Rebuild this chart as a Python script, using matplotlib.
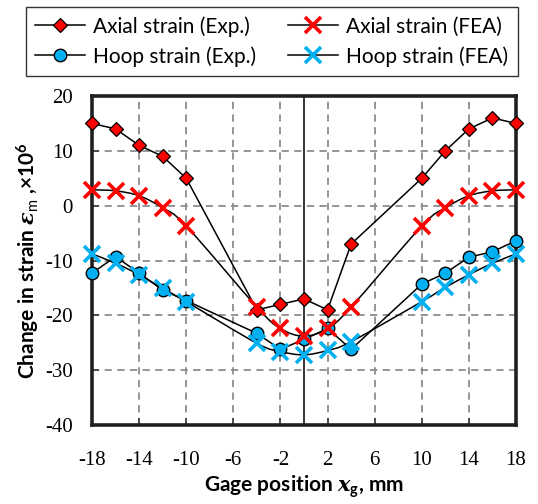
import matplotlib
matplotlib.use("Agg")
import matplotlib.pyplot as plt
from matplotlib.path import Path
from matplotlib.patches import PathPatch
from matplotlib.lines import Line2D
import numpy as np

# gage positions (mm)
x_pos = [-18, -16, -14, -12, -10, -4, -2, 0, 2, 4, 10, 12, 14, 16, 18]

# change in strain (x10^6)
axial_exp = [15, 14, 11, 9, 5, -19, -18, -17, -19, -7, 5, 10, 14, 16, 15]
axial_fea = [2.9, 2.7, 1.8, -0.4, -3.7, -18.5, -22.4, -23.8, -22.4, -18.5, -3.7, -0.4, 1.8, 2.7, 2.9]
hoop_exp = [-12.3, -9.3, -12.3, -15.4, -17.3, -23.3, -26.2, -24.4, -22.4, -26.2, -14.3, -12.3, -9.4, -8.4, -6.4]
hoop_fea = [-8.8, -10.5, -12.6, -15.1, -17.5, -25.1, -26.6, -27.2, -26.4, -24.8, -17.5, -14.9, -12.6, -10.5, -8.8]

xticks = [-18, -14, -10, -6, -2, 2, 6, 10, 14, 18]
yticks = [-40, -30, -20, -10, 0, 10, 20]

RED = "#FF0000"
BLUE = "#00B0F0"
SANS = "Lato"
SERIF = "Liberation Serif"

plt.rcParams["mathtext.fontset"] = "custom"
plt.rcParams["mathtext.rm"] = "Lato"
plt.rcParams["mathtext.it"] = "Lato:italic"
plt.rcParams["mathtext.bf"] = "Lato:bold"
plt.rcParams["mathtext.bfit"] = "DejaVu Serif:italic:bold"


def smooth_path(xs, ys):
    # cubic bezier through every point, excel-style smoothing
    pts = np.column_stack([xs, ys]).astype(float)
    n = len(pts)
    verts = [pts[0]]
    codes = [Path.MOVETO]
    for i in range(n - 1):
        p0 = pts[max(i - 1, 0)]
        p1 = pts[i]
        p2 = pts[i + 1]
        p3 = pts[min(i + 2, n - 1)]
        c1 = p1 + (p2 - p0) / 6.0
        c2 = p2 - (p3 - p1) / 6.0
        verts += [c1, c2, p2]
        codes += [Path.CURVE4] * 3
    return Path(verts, codes)


fig = plt.figure(figsize=(5.38, 5.04), dpi=100)
ax = fig.add_axes([92 / 538, 1 - 425 / 504, 424 / 538, 329 / 504])

ax.set_xlim(-18, 18)
ax.set_ylim(-40, 20)

# grid
for xv in xticks[1:-1]:
    ax.axvline(xv, color="#8c8c8c", lw=1.3, ls=(0, (4, 3)), zorder=1)
for yv in yticks[1:-1]:
    ax.axhline(yv, color="#8c8c8c", lw=1.3, ls=(0, (4, 3)), zorder=1)
ax.axvline(0, color="black", lw=1.1, zorder=1.5)

# exp. series: straight segments
ax.plot(x_pos, axial_exp, color="black", lw=1.1, marker="D", ms=7,
        mfc=RED, mec="black", mew=0.9, zorder=4)
ax.plot(x_pos, hoop_exp, color="black", lw=1.1, marker="o", ms=9,
        mfc=BLUE, mec="black", mew=1.0, zorder=4)

# FEA series: smoothed curves with cross markers
for vals, col in [(axial_fea, RED), (hoop_fea, BLUE)]:
    ax.add_patch(PathPatch(smooth_path(x_pos, vals), fc="none",
                           ec="black", lw=1.1, zorder=3))
    ax.plot(x_pos, vals, ls="none", marker="x", ms=12, mec=col,
            mew=2.6, zorder=5)

for ln in ax.lines:
    ln.set_clip_on(False)

ax.set_xticks(xticks)
ax.set_yticks(yticks)
ax.set_xticklabels([str(v) for v in xticks], fontfamily=SERIF, fontsize=15)
ax.set_yticklabels([str(v) for v in yticks], fontfamily=SERIF, fontsize=15)
ax.tick_params(direction="in", length=5, width=1.2, color="#404040")
ax.tick_params(axis="x", pad=19)
ax.tick_params(axis="y", pad=14)

for sp in ax.spines.values():
    sp.set_linewidth(2.6)
    sp.set_color("#202020")

ax.set_xlabel(r"Gage position $\mathbfit{x}_{\mathbf{g}}$, mm",
              fontfamily=SANS, fontweight="bold", fontsize=15, labelpad=2)
ax.set_ylabel(r"Change in strain $\mathbfit{\varepsilon}_{\mathrm{m}}$ ,×10$^{\mathbf{6}}$",
              fontfamily=SANS, fontweight="bold", fontsize=15, labelpad=2)

# legend
h_axial_exp = Line2D([], [], color="black", lw=1.1, marker="D", ms=7,
                     mfc=RED, mec="black", mew=0.9)
h_hoop_exp = Line2D([], [], color="black", lw=1.1, marker="o", ms=9,
                    mfc=BLUE, mec="black", mew=1.0)
h_axial_fea = Line2D([], [], color="black", lw=1.1, marker="x", ms=12,
                     mec=RED, mew=2.6)
h_hoop_fea = Line2D([], [], color="black", lw=1.1, marker="x", ms=12,
                    mec=BLUE, mew=2.6)
leg = fig.legend([h_axial_exp, h_hoop_exp, h_axial_fea, h_hoop_fea],
                 ["Axial strain (Exp.)", "Hoop strain (Exp.)",
                  "Axial strain (FEA)", "Hoop strain (FEA)"],
                 ncol=2, loc="upper center", bbox_to_anchor=(0.505, 0.995),
                 prop={"family": SANS, "size": 15}, frameon=True,
                 fancybox=False, edgecolor="black", handlelength=2.4,
                 handletextpad=0.4, columnspacing=1.5, labelspacing=0.45,
                 borderpad=0.45, borderaxespad=0.2)
leg.get_frame().set_linewidth(1.0)

fig.savefig("out.png", dpi=100)
